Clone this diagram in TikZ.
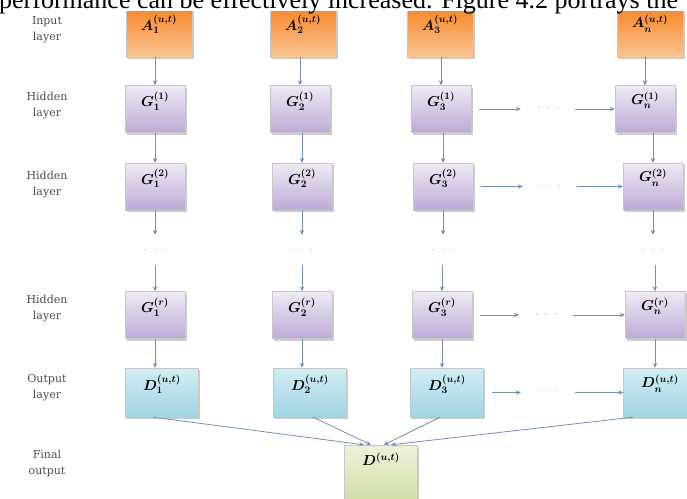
\documentclass[tikz,border=0pt]{standalone}
\usepackage{fontspec}
\usepackage{amsmath}
\setmainfont{Liberation Serif}
\newfontfamily\labelfont{DejaVu Serif}
\usetikzlibrary{arrows.meta,shadows,calc}
\definecolor{arrowc}{HTML}{7090BA}
\definecolor{orT}{HTML}{F68A2C}
\definecolor{orB}{HTML}{FAC494}
\definecolor{puT}{HTML}{EFEAF5}
\definecolor{puB}{HTML}{BDAAD5}
\definecolor{aqT}{HTML}{D2EDF4}
\definecolor{aqB}{HTML}{A0D4E2}
\definecolor{grT}{HTML}{EEF2DA}
\definecolor{grB}{HTML}{D0DDA6}
\tikzset{
  basebox/.style={inner sep=0pt, draw=black!22, line width=0.4pt,
    drop shadow={shadow xshift=1.5pt, shadow yshift=-2pt, opacity=0.4}},
  inbox/.style={basebox, top color=orT, bottom color=orB, minimum width=66pt, minimum height=48pt},
  hidbox/.style={basebox, top color=puT, bottom color=puB, minimum width=60pt, minimum height=47pt},
  outbox/.style={basebox, top color=aqT, bottom color=aqB, minimum width=73pt, minimum height=49pt},
  finbox/.style={basebox, top color=grT, bottom color=grB, minimum width=73pt, minimum height=56pt},
  blabel/.style={font=\fontsize{14}{16}\selectfont\boldmath, inner sep=0pt, anchor=north},
  conn/.style={draw=arrowc, line width=0.8pt, -{Stealth[length=5pt,width=4.5pt]}},
  vdotsnode/.style={text=black!45, font=\fontsize{10}{10}\selectfont, inner sep=0pt, minimum height=30pt, minimum width=24pt},
  hdotsnode/.style={text=black!45, font=\fontsize{10}{10}\selectfont, inner sep=0pt, minimum height=10pt, minimum width=54pt},
  layerlab/.style={font=\labelfont\fontsize{11}{16}\selectfont, text=black!70, align=center, inner sep=0pt},
}
\newcommand{\mydots}{$\cdot\;\,\cdot\;\,\cdot$}
\begin{document}
\begin{tikzpicture}[x=1pt,y=-1pt]
\useasboundingbox (0,0) rectangle (687,498);

% input boxes
\node[inbox] (a1) at (159,33) {};
\node[inbox] (a2) at (303,33) {};
\node[inbox] (a3) at (440,33) {};
\node[inbox] (a4) at (650,33) {};
% hidden 1
\node[hidbox] (g1) at (155,109) {};
\node[hidbox] (g2) at (300,109) {};
\node[hidbox] (g3) at (441,109) {};
\node[hidbox] (g4) at (645,109) {};
% hidden 2
\node[hidbox] (h1) at (155,186.5) {};
\node[hidbox] (h2) at (302,186.5) {};
\node[hidbox] (h3) at (443,186.5) {};
\node[hidbox] (h4) at (653,186.5) {};
% hidden r
\node[hidbox] (r1) at (155,315) {};
\node[hidbox] (r2) at (302,315) {};
\node[hidbox] (r3) at (442,315) {};
\node[hidbox] (r4) at (655,315) {};
% output
\node[outbox] (d1) at (162,392.5) {};
\node[outbox] (d2) at (310,392.5) {};
\node[outbox] (d3) at (447,392.5) {};
\node[outbox] (d4) at (660,392.5) {};
% final
\node[finbox] (fin) at (381,473) {};

% box labels
\node[blabel] (la1) at ([yshift=-6pt]a1.north) {$A_1^{(u,t)}$};
\node[blabel] (la2) at ([yshift=-6pt]a2.north) {$A_2^{(u,t)}$};
\node[blabel] (la3) at ([yshift=-6pt]a3.north) {$A_3^{(u,t)}$};
\node[blabel] (la4) at ([yshift=-6pt]a4.north) {$A_n^{(u,t)}$};
\node[blabel] (lg1) at ([yshift=-6pt]g1.north) {$G_1^{(1)}$};
\node[blabel] (lg2) at ([yshift=-6pt]g2.north) {$G_2^{(1)}$};
\node[blabel] (lg3) at ([yshift=-6pt]g3.north) {$G_3^{(1)}$};
\node[blabel] (lg4) at ([yshift=-6pt]g4.north) {$G_n^{(1)}$};
\node[blabel] (lh1) at ([yshift=-6pt]h1.north) {$G_1^{(2)}$};
\node[blabel] (lh2) at ([yshift=-6pt]h2.north) {$G_2^{(2)}$};
\node[blabel] (lh3) at ([yshift=-6pt]h3.north) {$G_3^{(2)}$};
\node[blabel] (lh4) at ([yshift=-6pt]h4.north) {$G_n^{(2)}$};
\node[blabel] (lr1) at ([yshift=-6pt]r1.north) {$G_1^{(r)}$};
\node[blabel] (lr2) at ([yshift=-6pt]r2.north) {$G_2^{(r)}$};
\node[blabel] (lr3) at ([yshift=-6pt]r3.north) {$G_3^{(r)}$};
\node[blabel] (lr4) at ([yshift=-6pt]r4.north) {$G_n^{(r)}$};
\node[blabel] (ld1) at ([yshift=-7pt]d1.north) {$D_1^{(u,t)}$};
\node[blabel] (ld2) at ([yshift=-7pt]d2.north) {$D_2^{(u,t)}$};
\node[blabel] (ld3) at ([yshift=-7pt]d3.north) {$D_3^{(u,t)}$};
\node[blabel] (ld4) at ([yshift=-7pt]d4.north) {$D_n^{(u,t)}$};
\node[blabel] (lfin) at ([yshift=-8pt]fin.north) {$D^{(u,t)}$};

% vertical dots
\node[vdotsnode] (v1) at (155,250) {\mydots};
\node[vdotsnode] (v2) at (302,250) {\mydots};
\node[vdotsnode] (v3) at (443,250) {\mydots};
\node[vdotsnode] (v4) at (653,250) {\mydots};
% horizontal dots
\node[hdotsnode] (x1) at (548,108) {\mydots};
\node[hdotsnode] (x2) at (550,186) {\mydots};
\node[hdotsnode] (x3) at (546,315) {\mydots};
\node[hdotsnode] (x4) at (548,391) {\mydots};

% vertical arrows
\foreach \up/\dn in {a1/g1,a2/g2,a3/g3,a4/g4,g1/h1,g2/h2,g3/h3,g4/h4}
  \draw[conn] (\dn.north |- \up.south) -- (\dn.north);
\foreach \up/\dd in {h1/v1,h2/v2,h3/v3,h4/v4}
  \draw[conn] (\up.south) -- (\up.south |- \dd.north);
\foreach \dd/\dn in {v1/r1,v2/r2,v3/r3,v4/r4}
  \draw[conn] (\dn.north |- \dd.south) -- (\dn.north);
\foreach \up/\dn in {r1/d1,r2/d2,r3/d3,r4/d4}
  \draw[conn] (\up.south) -- (\up.south |- \dn.north);

% horizontal arrows
\foreach \lft/\dd/\rgt in {g3/x1/g4,h3/x2/h4,r3/x3/r4,d3/x4/d4}{
  \draw[conn, shorten <=8pt] (\lft.east) -- (\lft.east -| \dd.west);
  \draw[conn] (\dd.east |- \lft.east) -- (\rgt.west |- \lft.east);
}

% to final
\draw[conn] ([xshift=-9pt]d1.south) -- ([xshift=-17pt]fin.north);
\draw[conn] ([xshift=3pt]d2.south) -- ([xshift=-10pt]fin.north);
\draw[conn] ([xshift=-7pt]d3.south) -- ([xshift=3pt]fin.north);
\draw[conn] ([xshift=-27pt]d4.south) -- ([xshift=10pt]fin.north);

% layer labels
\node[layerlab] (l1) at (47,30) {Input\\layer};
\node[layerlab] (l2) at (47,106) {Hidden\\layer};
\node[layerlab] (l3) at (47,185) {Hidden\\layer};
\node[layerlab] (l4) at (47,309) {Hidden\\layer};
\node[layerlab] (l5) at (47,388) {Output\\layer};
\node[layerlab] (l6) at (47,463) {Final\\output};

% clipped running text at top
\fill[white] (0,-14) rectangle (687,11);
\node[anchor=base west, inner sep=0pt, font=\fontsize{26}{28}\selectfont] (toptext) at (-1,8)
  {performance can be effectively increased. Figure 4.2 portrays the};
\end{tikzpicture}
\end{document}
